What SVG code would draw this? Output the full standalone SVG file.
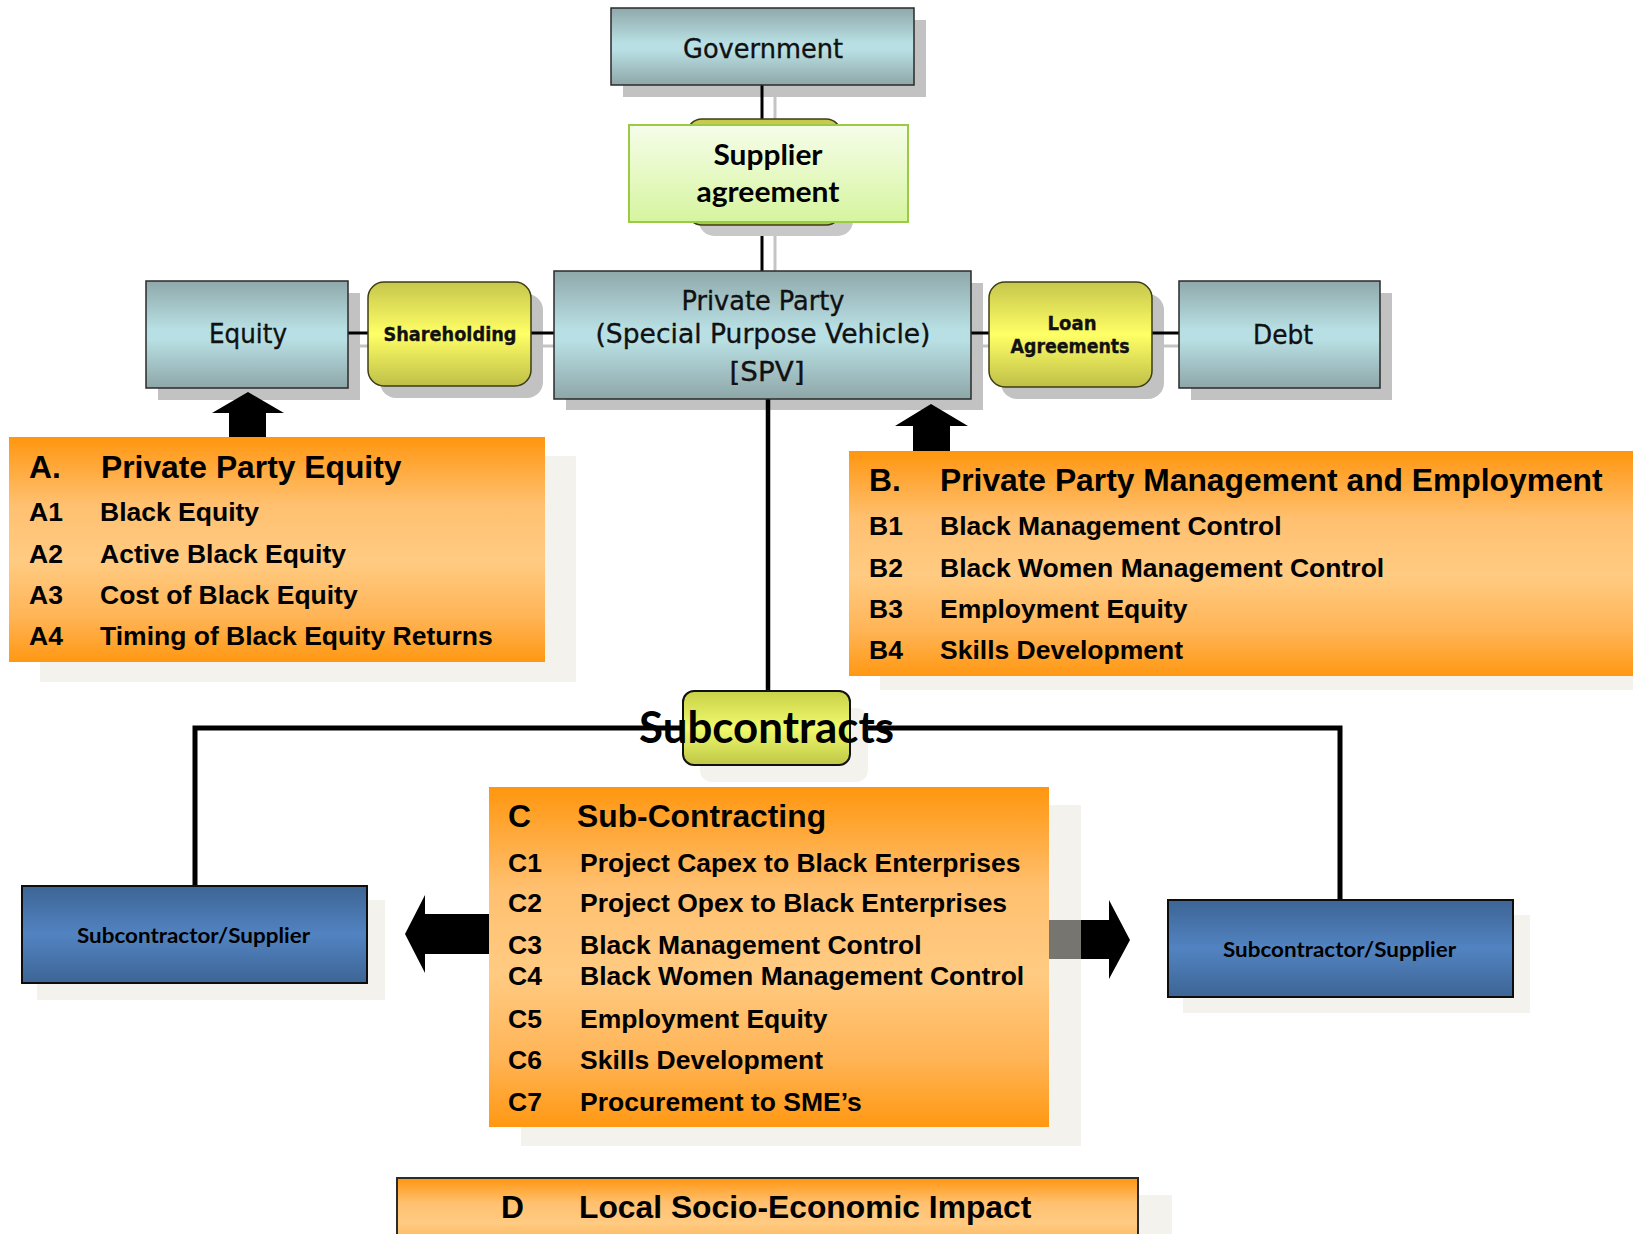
<svg xmlns="http://www.w3.org/2000/svg" width="1633" height="1234" viewBox="0 0 1633 1234">
<defs>
<linearGradient id="gTeal" x1="0" y1="0" x2="0" y2="1">
<stop offset="0" stop-color="#8fa8aa"/><stop offset="0.45" stop-color="#b8dfe3"/><stop offset="0.55" stop-color="#b8dfe3"/><stop offset="1" stop-color="#8ea6a8"/>
</linearGradient>
<linearGradient id="gYel" x1="0" y1="0" x2="0" y2="1">
<stop offset="0" stop-color="#c6c64c"/><stop offset="0.5" stop-color="#ffff66"/><stop offset="1" stop-color="#bfbf48"/>
</linearGradient>
<linearGradient id="gSub" x1="0" y1="0" x2="0" y2="1">
<stop offset="0" stop-color="#c9d148"/><stop offset="0.5" stop-color="#f0fa6c"/><stop offset="1" stop-color="#bfc746"/>
</linearGradient>
<linearGradient id="gGreen" x1="0" y1="0" x2="0" y2="1">
<stop offset="0" stop-color="#f6fdea"/><stop offset="1" stop-color="#d6f59f"/>
</linearGradient>
<linearGradient id="gOrange" x1="0" y1="0" x2="0" y2="1">
<stop offset="0" stop-color="#ff960f"/><stop offset="0.3" stop-color="#ffc070"/><stop offset="0.55" stop-color="#ffcb82"/><stop offset="0.8" stop-color="#ffb456"/><stop offset="1" stop-color="#ff9812"/>
</linearGradient>
<linearGradient id="gBlue" x1="0" y1="0" x2="0" y2="1">
<stop offset="0" stop-color="#3d6595"/><stop offset="0.5" stop-color="#5283c1"/><stop offset="1" stop-color="#3d6595"/>
</linearGradient>
<style>
.teal{fill:url(#gTeal);stroke:#2a2a2a;stroke-width:1.5}
.tsh{fill:#000;opacity:0.24}
.yel{fill:url(#gYel);stroke:#3c3c14;stroke-width:1.5}
.orange{fill:url(#gOrange)}
.osh{fill:rgb(231,229,219);opacity:0.51}
.blue{fill:url(#gBlue);stroke:#0d0d0d;stroke-width:2}
.bsh{fill:#f3f2ed}
.ln{stroke:#000;stroke-width:3;fill:none}
.bus{stroke:#000;stroke-width:5;fill:none}
.gl{stroke:#c4c4c4;stroke-width:3;fill:none}
.arw{fill:#000}
.tah{font-family:"DejaVu Sans",Verdana,sans-serif;fill:#111;stroke:#111;stroke-width:0.35}
.ar{font-family:"Liberation Sans",Arial,sans-serif;font-weight:bold;fill:#000}
.cal{font-family:Lato,"Open Sans",sans-serif;font-weight:bold;fill:#000}
.h{font-size:31.8px}
.it{font-size:26.5px}
</style>
</defs>
<rect x="0" y="0" width="1633" height="1234" fill="#fff"/>

<g id="connectors">
<line class="gl" x1="775" y1="97" x2="775" y2="120"/>
<line class="ln" x1="762" y1="85" x2="762" y2="125"/>
<line class="gl" x1="775" y1="235" x2="775" y2="283"/>
<line class="ln" x1="762" y1="222" x2="762" y2="271"/>
<line class="gl" x1="360" y1="346" x2="380" y2="346"/>
<line class="ln" x1="348" y1="333" x2="368" y2="333"/>
<line class="gl" x1="543" y1="346" x2="567" y2="346"/>
<line class="ln" x1="531" y1="333" x2="554" y2="333"/>
<line class="gl" x1="983" y1="346" x2="1001" y2="346"/>
<line class="ln" x1="971" y1="333" x2="989" y2="333"/>
<line class="gl" x1="1164" y1="346" x2="1192" y2="346"/>
<line class="ln" x1="1152" y1="333" x2="1179" y2="333"/>
<line x1="768" y1="399" x2="768" y2="691" stroke="#000" stroke-width="4.5"/>
<path class="bus" d="M195,886 V728 H1340 V900"/>
<polygon class="arw" points="229,437 229,413 212,413 248,392 284,413 266,413 266,437"/>
<polygon class="arw" points="913,451 913,426 895,426 931,404 968,426 950,426 950,451"/>
<polygon class="arw" points="489,914 425,914 425,895 405,934 425,973 425,954 489,954"/>
<polygon class="arw" points="1049,920 1109,920 1109,900 1130,940 1109,979 1109,959 1049,959"/>
</g>

<g id="government">
<rect class="tsh" x="623" y="20" width="303" height="77"/>
<rect class="teal" x="611" y="8" width="303" height="77"/>
<text class="tah" x="763" y="58" font-size="26" text-anchor="middle" textLength="160" lengthAdjust="spacingAndGlyphs">Government</text>
</g>

<g id="supplier-agreement">
<rect x="699" y="131" width="154" height="105" rx="15" fill="#c8c8c8"/>
<rect class="yel" x="687" y="119" width="154" height="106" rx="15"/>
<rect x="629" y="125" width="279" height="97" fill="url(#gGreen)" stroke="#9bcb44" stroke-width="2"/>
<text class="cal" x="768" y="165" font-size="29" text-anchor="middle" textLength="109" lengthAdjust="spacingAndGlyphs">Supplier</text>
<text class="cal" x="768" y="202" font-size="29" text-anchor="middle" textLength="143" lengthAdjust="spacingAndGlyphs">agreement</text>
</g>

<g id="spv">
<rect class="tsh" x="566" y="283" width="417" height="127"/>
<rect class="teal" x="554" y="271" width="417" height="128"/>
<text class="tah" x="763" y="310" font-size="26" text-anchor="middle" textLength="163" lengthAdjust="spacingAndGlyphs">Private Party</text>
<text class="tah" x="763" y="343" font-size="26" text-anchor="middle" textLength="335" lengthAdjust="spacingAndGlyphs">(Special Purpose Vehicle)</text>
<text class="tah" x="767" y="381" font-size="26" text-anchor="middle" textLength="75" lengthAdjust="spacingAndGlyphs">[SPV]</text>
</g>

<g id="equity">
<rect class="tsh" x="158" y="293" width="202" height="107"/>
<rect class="teal" x="146" y="281" width="202" height="107"/>
<text class="tah" x="248" y="343" font-size="26" text-anchor="middle" textLength="78" lengthAdjust="spacingAndGlyphs">Equity</text>
</g>

<g id="shareholding">
<rect class="tsh" x="380" y="294" width="163" height="104" rx="16"/>
<rect class="yel" x="368" y="282" width="163" height="104" rx="16"/>
<text class="tah" x="450" y="341" font-size="19" font-weight="bold" text-anchor="middle" textLength="133" lengthAdjust="spacingAndGlyphs">Shareholding</text>
</g>

<g id="loan-agreements">
<rect class="tsh" x="1001" y="294" width="163" height="105" rx="16"/>
<rect class="yel" x="989" y="282" width="163" height="105" rx="16"/>
<text class="tah" x="1072" y="330" font-size="19" font-weight="bold" text-anchor="middle" textLength="49" lengthAdjust="spacingAndGlyphs">Loan</text>
<text class="tah" x="1070" y="353" font-size="19" font-weight="bold" text-anchor="middle" textLength="119" lengthAdjust="spacingAndGlyphs">Agreements</text>
</g>

<g id="debt">
<rect class="tsh" x="1191" y="293" width="201" height="107"/>
<rect class="teal" x="1179" y="281" width="201" height="107"/>
<text class="tah" x="1283" y="344" font-size="26" text-anchor="middle" textLength="60" lengthAdjust="spacingAndGlyphs">Debt</text>
</g>

<g id="box-a">
<rect class="osh" x="40" y="456" width="536" height="226"/>
<rect class="orange" x="9" y="437" width="536" height="225"/>
<text class="ar h" x="29" y="478">A.</text>
<text class="ar h" x="101" y="478">Private Party Equity</text>
<text class="ar it" x="29" y="521">A1</text><text class="ar it" x="100" y="521">Black Equity</text>
<text class="ar it" x="29" y="563">A2</text><text class="ar it" x="100" y="563">Active Black Equity</text>
<text class="ar it" x="29" y="604">A3</text><text class="ar it" x="100" y="604">Cost of Black Equity</text>
<text class="ar it" x="29" y="645">A4</text><text class="ar it" x="100" y="645">Timing of Black Equity Returns</text>
</g>

<g id="box-b">
<rect class="osh" x="880" y="470" width="760" height="220"/>
<rect class="orange" x="849" y="451" width="790" height="225"/>
<text class="ar h" x="869" y="491">B.</text>
<text class="ar h" x="940" y="491">Private Party Management and Employment</text>
<text class="ar it" x="869" y="535">B1</text><text class="ar it" x="940" y="535">Black Management Control</text>
<text class="ar it" x="869" y="577">B2</text><text class="ar it" x="940" y="577">Black Women Management Control</text>
<text class="ar it" x="869" y="618">B3</text><text class="ar it" x="940" y="618">Employment Equity</text>
<text class="ar it" x="869" y="659">B4</text><text class="ar it" x="940" y="659">Skills Development</text>
</g>

<g id="subcontracts">
<rect class="bsh" x="700" y="708" width="168" height="74" rx="12"/>
<rect x="683" y="691" width="167" height="74" rx="11" fill="url(#gSub)" stroke="#111" stroke-width="2"/>
<text class="cal" x="766.5" y="743" font-size="44" text-anchor="middle" textLength="255" lengthAdjust="spacingAndGlyphs">Subcontracts</text>
</g>

<g id="subcontractor-left">
<rect class="bsh" x="37" y="900" width="348" height="100"/>
<rect class="blue" x="22" y="886" width="345" height="97"/>
<text class="cal" x="193.5" y="943" font-size="21" text-anchor="middle" textLength="233" lengthAdjust="spacingAndGlyphs" fill="#0a0a0a">Subcontractor/Supplier</text>
</g>

<g id="subcontractor-right">
<rect class="bsh" x="1183" y="915" width="347" height="98"/>
<rect class="blue" x="1168" y="900" width="345" height="97"/>
<text class="cal" x="1339.5" y="957" font-size="21" text-anchor="middle" textLength="233" lengthAdjust="spacingAndGlyphs" fill="#0a0a0a">Subcontractor/Supplier</text>
</g>

<g id="box-c">
<rect class="osh" x="521" y="805" width="560" height="341"/>
<rect class="orange" x="489" y="787" width="560" height="340"/>
<text class="ar h" x="508" y="827">C</text>
<text class="ar h" x="577" y="827">Sub-Contracting</text>
<text class="ar it" x="508" y="872">C1</text><text class="ar it" x="580" y="872">Project Capex to Black Enterprises</text>
<text class="ar it" x="508" y="912">C2</text><text class="ar it" x="580" y="912">Project Opex to Black Enterprises</text>
<text class="ar it" x="508" y="954">C3</text><text class="ar it" x="580" y="954">Black Management Control</text>
<text class="ar it" x="508" y="985">C4</text><text class="ar it" x="580" y="985">Black Women Management Control</text>
<text class="ar it" x="508" y="1028">C5</text><text class="ar it" x="580" y="1028">Employment Equity</text>
<text class="ar it" x="508" y="1069">C6</text><text class="ar it" x="580" y="1069">Skills Development</text>
<text class="ar it" x="508" y="1111">C7</text><text class="ar it" x="580" y="1111">Procurement to SME’s</text>
</g>

<g id="box-d">
<rect class="osh" x="429" y="1195" width="743" height="60"/>
<rect class="orange" x="397" y="1178" width="741" height="82" stroke="#2b2b2b" stroke-width="2"/>
<text class="ar h" x="501" y="1218">D</text>
<text class="ar h" x="579" y="1218">Local Socio-Economic Impact</text>
</g>
</svg>
